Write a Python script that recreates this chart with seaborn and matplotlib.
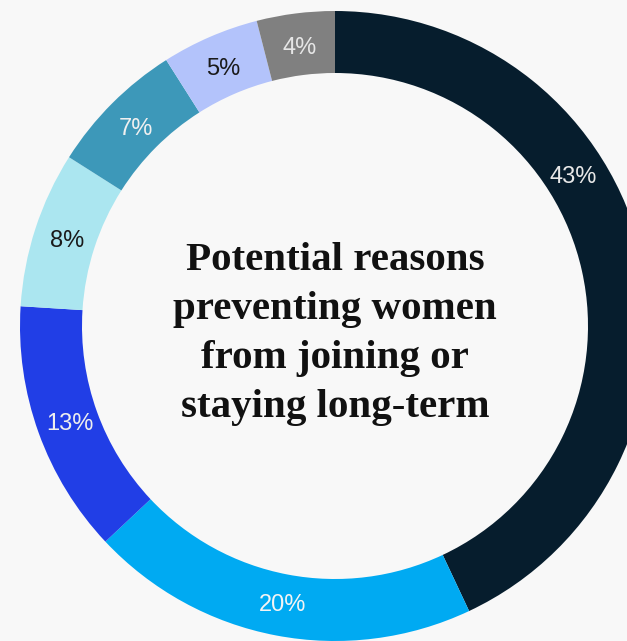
import matplotlib
matplotlib.use("Agg")
import matplotlib.pyplot as plt
import seaborn as sns
import numpy as np

# ---- data ----
categories = ["Reason A", "Reason B", "Reason C", "Reason D", "Reason E", "Reason F", "Reason G"]
values = [43, 20, 13, 8, 7, 5, 4]
labels = ["43%", "20%", "13%", "8%", "7%", "5%", "4%"]
title_text = "Potential reasons\npreventing women\nfrom joining or\nstaying long-term"

# ---- style ----
colors = ["#061d2d", "#00aaf2", "#213ee6", "#abe6f0", "#3d98b9", "#b3c3fb", "#808080"]
label_colors = ["#e8e8e8", "#f4f4f4", "#eeeeee", "#1a1a1a", "#f0f0f0", "#1a1a1a", "#e6e6e6"]
# label position as fraction of circle (None = segment middle); first label sits in visible part
label_frac_override = {0: 0.16}

BG = "#f8f8f8"
W, H = 627, 641
sns.set_theme(style="white")
plt.rcParams["font.family"] = ["Liberation Sans", "DejaVu Sans"]

fig = plt.figure(figsize=(W / 100, H / 100), dpi=100, facecolor=BG)
ax = fig.add_axes([0, 0, 1, 1], facecolor=BG)
ax.set_xlim(0, W)
ax.set_ylim(0, H)
ax.set_aspect("equal")
ax.axis("off")

cx, cy = 335, H - 326
R, ring = 315, 62

pal = sns.color_palette(colors)
ax.pie(values, colors=pal, startangle=90, counterclock=False,
       center=(cx, cy), radius=R, frame=True,
       wedgeprops=dict(width=ring, linewidth=0))
ax.set_xlim(0, W)
ax.set_ylim(0, H)
ax.axis("off")

total = float(sum(values))
cum = np.cumsum([0] + values[:-1]) / total
rl = R - ring / 2 - 2
for i, (v, lab) in enumerate(zip(values, labels)):
    frac = label_frac_override.get(i, cum[i] + v / total / 2)
    th = 2 * np.pi * frac
    x = cx + rl * np.sin(th)
    y = cy + rl * np.cos(th) - 2
    ax.text(x, y, lab, ha="center", va="center", fontsize=17,
            color=label_colors[i], fontweight="light")

ax.text(cx, cy - 8, title_text, ha="center", va="center",
        fontsize=29.5, fontweight="bold", linespacing=1.42,
        family=["Liberation Serif", "DejaVu Serif"], color="#111111")

fig.savefig("out.png", dpi=100, facecolor=BG)
